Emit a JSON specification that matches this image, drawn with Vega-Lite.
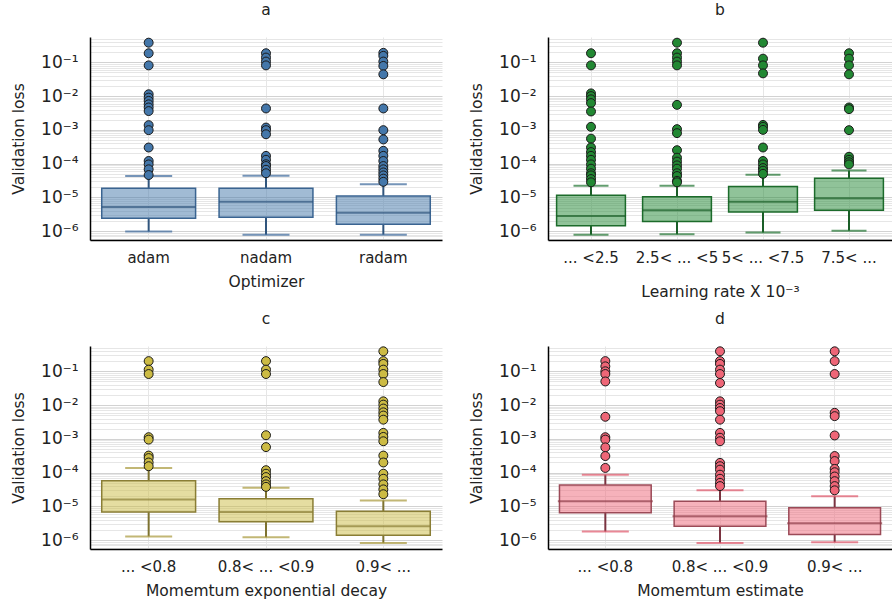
{
  "$schema": "https://vega.github.io/schema/vega-lite/v6.json",
  "padding": {"left": 11, "top": 3, "right": 0, "bottom": 0},
  "background": "white",
  "config": {
    "font": "DejaVu Sans",
    "view": {"stroke": null},
    "axis": {"labelFont": "DejaVu Sans", "titleFont": "DejaVu Sans", "labelColor": "#222222", "titleColor": "#222222", "titleFontWeight": "normal", "domainColor": "#000000", "domainWidth": 1.5, "ticks": false, "labelFontSize": 15, "titleFontSize": 15.5, "grid": true},
    "axisX": {"labelAngle": 0, "labelPadding": 10, "titlePadding": 9, "gridColor": "#e6e6e6"},
    "axisY": {"labelFontSize": 17, "labelPadding": 12, "titlePadding": 14},
    "title": {"fontSize": 15.5, "fontWeight": "normal", "font": "DejaVu Sans", "offset": 11, "color": "#222222", "frame": "group", "anchor": "middle"}
  },
  "datasets": {
    "boxes": [
      {"p": "a", "cat": "adam", "lo": 9.8e-7, "q1": 2.43e-6, "med": 5.2e-6, "q3": 1.86e-5, "hi": 4.3e-5},
      {"p": "a", "cat": "nadam", "lo": 7.9e-7, "q1": 2.6e-6, "med": 7.4e-6, "q3": 1.86e-5, "hi": 4.4e-5},
      {"p": "a", "cat": "radam", "lo": 7.9e-7, "q1": 1.6e-6, "med": 3.5e-6, "q3": 1.11e-5, "hi": 2.45e-5},
      {"p": "b", "cat": "... <2.5", "lo": 7.9e-7, "q1": 1.45e-6, "med": 2.8e-6, "q3": 1.17e-5, "hi": 2.2e-5},
      {"p": "b", "cat": "2.5< ... <5", "lo": 8.1e-7, "q1": 1.95e-6, "med": 4.2e-6, "q3": 1.04e-5, "hi": 2.2e-5},
      {"p": "b", "cat": "5< ... <7.5", "lo": 9.1e-7, "q1": 3.7e-6, "med": 7.4e-6, "q3": 2.1e-5, "hi": 4.7e-5},
      {"p": "b", "cat": "7.5< ...", "lo": 1.03e-6, "q1": 4.2e-6, "med": 9.5e-6, "q3": 3.7e-5, "hi": 6.3e-5},
      {"p": "c", "cat": "... <0.8", "lo": 1.3e-6, "q1": 6.8e-6, "med": 1.6e-5, "q3": 5.8e-5, "hi": 1.38e-4},
      {"p": "c", "cat": "0.8< ... <0.9", "lo": 1.23e-6, "q1": 3.5e-6, "med": 6.9e-6, "q3": 1.7e-5, "hi": 3.55e-5},
      {"p": "c", "cat": "0.9< ...", "lo": 8.3e-7, "q1": 1.4e-6, "med": 2.6e-6, "q3": 7.2e-6, "hi": 1.5e-5},
      {"p": "d", "cat": "... <0.8", "lo": 1.8e-6, "q1": 6.5e-6, "med": 1.42e-5, "q3": 4.3e-5, "hi": 8.7e-5},
      {"p": "d", "cat": "0.8< ... <0.9", "lo": 8.3e-7, "q1": 2.6e-6, "med": 5.1e-6, "q3": 1.42e-5, "hi": 3.0e-5},
      {"p": "d", "cat": "0.9< ...", "lo": 8.7e-7, "q1": 1.48e-6, "med": 3.2e-6, "q3": 9.1e-6, "hi": 2.0e-5}
    ],
    "out": [
      {"p": "a", "cat": "adam", "loss": 0.38}, {"p": "a", "cat": "adam", "loss": 0.185}, {"p": "a", "cat": "adam", "loss": 0.081}, {"p": "a", "cat": "adam", "loss": 0.0113}, {"p": "a", "cat": "adam", "loss": 0.009}, {"p": "a", "cat": "adam", "loss": 0.0072}, {"p": "a", "cat": "adam", "loss": 0.0057}, {"p": "a", "cat": "adam", "loss": 0.0046}, {"p": "a", "cat": "adam", "loss": 0.0036}, {"p": "a", "cat": "adam", "loss": 0.00138}, {"p": "a", "cat": "adam", "loss": 0.00098}, {"p": "a", "cat": "adam", "loss": 0.0003}, {"p": "a", "cat": "adam", "loss": 0.00012}, {"p": "a", "cat": "adam", "loss": 0.000095}, {"p": "a", "cat": "adam", "loss": 0.000068}, {"p": "a", "cat": "adam", "loss": 0.000046},
      {"p": "a", "cat": "nadam", "loss": 0.185}, {"p": "a", "cat": "nadam", "loss": 0.138}, {"p": "a", "cat": "nadam", "loss": 0.105}, {"p": "a", "cat": "nadam", "loss": 0.081}, {"p": "a", "cat": "nadam", "loss": 0.0043}, {"p": "a", "cat": "nadam", "loss": 0.00117}, {"p": "a", "cat": "nadam", "loss": 0.00098}, {"p": "a", "cat": "nadam", "loss": 0.00074}, {"p": "a", "cat": "nadam", "loss": 0.00017}, {"p": "a", "cat": "nadam", "loss": 0.00013}, {"p": "a", "cat": "nadam", "loss": 0.000096}, {"p": "a", "cat": "nadam", "loss": 0.000085}, {"p": "a", "cat": "nadam", "loss": 0.000066}, {"p": "a", "cat": "nadam", "loss": 0.000052},
      {"p": "a", "cat": "radam", "loss": 0.19}, {"p": "a", "cat": "radam", "loss": 0.155}, {"p": "a", "cat": "radam", "loss": 0.105}, {"p": "a", "cat": "radam", "loss": 0.078}, {"p": "a", "cat": "radam", "loss": 0.044}, {"p": "a", "cat": "radam", "loss": 0.0043}, {"p": "a", "cat": "radam", "loss": 0.00098}, {"p": "a", "cat": "radam", "loss": 0.00052}, {"p": "a", "cat": "radam", "loss": 0.00024}, {"p": "a", "cat": "radam", "loss": 0.00017}, {"p": "a", "cat": "radam", "loss": 0.00012}, {"p": "a", "cat": "radam", "loss": 0.000085}, {"p": "a", "cat": "radam", "loss": 0.000068}, {"p": "a", "cat": "radam", "loss": 0.000055}, {"p": "a", "cat": "radam", "loss": 0.000045}, {"p": "a", "cat": "radam", "loss": 0.000036}, {"p": "a", "cat": "radam", "loss": 0.000029},
      {"p": "b", "cat": "... <2.5", "loss": 0.185}, {"p": "b", "cat": "... <2.5", "loss": 0.081}, {"p": "b", "cat": "... <2.5", "loss": 0.012}, {"p": "b", "cat": "... <2.5", "loss": 0.01}, {"p": "b", "cat": "... <2.5", "loss": 0.008}, {"p": "b", "cat": "... <2.5", "loss": 0.0062}, {"p": "b", "cat": "... <2.5", "loss": 0.0035}, {"p": "b", "cat": "... <2.5", "loss": 0.00123}, {"p": "b", "cat": "... <2.5", "loss": 0.00055}, {"p": "b", "cat": "... <2.5", "loss": 0.0003}, {"p": "b", "cat": "... <2.5", "loss": 0.00022}, {"p": "b", "cat": "... <2.5", "loss": 0.00017}, {"p": "b", "cat": "... <2.5", "loss": 0.00013}, {"p": "b", "cat": "... <2.5", "loss": 0.000095}, {"p": "b", "cat": "... <2.5", "loss": 0.000071}, {"p": "b", "cat": "... <2.5", "loss": 0.000052}, {"p": "b", "cat": "... <2.5", "loss": 0.000045}, {"p": "b", "cat": "... <2.5", "loss": 0.000035}, {"p": "b", "cat": "... <2.5", "loss": 0.000028},
      {"p": "b", "cat": "2.5< ... <5", "loss": 0.38}, {"p": "b", "cat": "2.5< ... <5", "loss": 0.185}, {"p": "b", "cat": "2.5< ... <5", "loss": 0.138}, {"p": "b", "cat": "2.5< ... <5", "loss": 0.105}, {"p": "b", "cat": "2.5< ... <5", "loss": 0.081}, {"p": "b", "cat": "2.5< ... <5", "loss": 0.0055}, {"p": "b", "cat": "2.5< ... <5", "loss": 0.00105}, {"p": "b", "cat": "2.5< ... <5", "loss": 0.0008}, {"p": "b", "cat": "2.5< ... <5", "loss": 0.00025}, {"p": "b", "cat": "2.5< ... <5", "loss": 0.00015}, {"p": "b", "cat": "2.5< ... <5", "loss": 0.000115}, {"p": "b", "cat": "2.5< ... <5", "loss": 0.000089}, {"p": "b", "cat": "2.5< ... <5", "loss": 0.000071}, {"p": "b", "cat": "2.5< ... <5", "loss": 0.000052}, {"p": "b", "cat": "2.5< ... <5", "loss": 0.000043}, {"p": "b", "cat": "2.5< ... <5", "loss": 0.000031}, {"p": "b", "cat": "2.5< ... <5", "loss": 0.000028},
      {"p": "b", "cat": "5< ... <7.5", "loss": 0.38}, {"p": "b", "cat": "5< ... <7.5", "loss": 0.128}, {"p": "b", "cat": "5< ... <7.5", "loss": 0.081}, {"p": "b", "cat": "5< ... <7.5", "loss": 0.047}, {"p": "b", "cat": "5< ... <7.5", "loss": 0.0014}, {"p": "b", "cat": "5< ... <7.5", "loss": 0.00123}, {"p": "b", "cat": "5< ... <7.5", "loss": 0.001}, {"p": "b", "cat": "5< ... <7.5", "loss": 0.0003}, {"p": "b", "cat": "5< ... <7.5", "loss": 0.00012}, {"p": "b", "cat": "5< ... <7.5", "loss": 0.000095}, {"p": "b", "cat": "5< ... <7.5", "loss": 0.000074}, {"p": "b", "cat": "5< ... <7.5", "loss": 0.000062}, {"p": "b", "cat": "5< ... <7.5", "loss": 0.00005},
      {"p": "b", "cat": "7.5< ...", "loss": 0.185}, {"p": "b", "cat": "7.5< ...", "loss": 0.128}, {"p": "b", "cat": "7.5< ...", "loss": 0.081}, {"p": "b", "cat": "7.5< ...", "loss": 0.044}, {"p": "b", "cat": "7.5< ...", "loss": 0.0046}, {"p": "b", "cat": "7.5< ...", "loss": 0.0041}, {"p": "b", "cat": "7.5< ...", "loss": 0.00098}, {"p": "b", "cat": "7.5< ...", "loss": 0.00016}, {"p": "b", "cat": "7.5< ...", "loss": 0.00013}, {"p": "b", "cat": "7.5< ...", "loss": 0.00011}, {"p": "b", "cat": "7.5< ...", "loss": 0.000095},
      {"p": "c", "cat": "... <0.8", "loss": 0.2}, {"p": "c", "cat": "... <0.8", "loss": 0.112}, {"p": "c", "cat": "... <0.8", "loss": 0.083}, {"p": "c", "cat": "... <0.8", "loss": 0.00112}, {"p": "c", "cat": "... <0.8", "loss": 0.00095}, {"p": "c", "cat": "... <0.8", "loss": 0.00032}, {"p": "c", "cat": "... <0.8", "loss": 0.00027}, {"p": "c", "cat": "... <0.8", "loss": 0.0002}, {"p": "c", "cat": "... <0.8", "loss": 0.000155},
      {"p": "c", "cat": "0.8< ... <0.9", "loss": 0.2}, {"p": "c", "cat": "0.8< ... <0.9", "loss": 0.112}, {"p": "c", "cat": "0.8< ... <0.9", "loss": 0.083}, {"p": "c", "cat": "0.8< ... <0.9", "loss": 0.00128}, {"p": "c", "cat": "0.8< ... <0.9", "loss": 0.00057}, {"p": "c", "cat": "0.8< ... <0.9", "loss": 0.000118}, {"p": "c", "cat": "0.8< ... <0.9", "loss": 0.000093}, {"p": "c", "cat": "0.8< ... <0.9", "loss": 0.000074}, {"p": "c", "cat": "0.8< ... <0.9", "loss": 0.000056}, {"p": "c", "cat": "0.8< ... <0.9", "loss": 0.000045}, {"p": "c", "cat": "0.8< ... <0.9", "loss": 0.000038},
      {"p": "c", "cat": "0.9< ...", "loss": 0.39}, {"p": "c", "cat": "0.9< ...", "loss": 0.2}, {"p": "c", "cat": "0.9< ...", "loss": 0.165}, {"p": "c", "cat": "0.9< ...", "loss": 0.112}, {"p": "c", "cat": "0.9< ...", "loss": 0.083}, {"p": "c", "cat": "0.9< ...", "loss": 0.048}, {"p": "c", "cat": "0.9< ...", "loss": 0.0129}, {"p": "c", "cat": "0.9< ...", "loss": 0.0103}, {"p": "c", "cat": "0.9< ...", "loss": 0.0079}, {"p": "c", "cat": "0.9< ...", "loss": 0.0061}, {"p": "c", "cat": "0.9< ...", "loss": 0.0049}, {"p": "c", "cat": "0.9< ...", "loss": 0.0037}, {"p": "c", "cat": "0.9< ...", "loss": 0.0015}, {"p": "c", "cat": "0.9< ...", "loss": 0.00114}, {"p": "c", "cat": "0.9< ...", "loss": 0.00085}, {"p": "c", "cat": "0.9< ...", "loss": 0.00032}, {"p": "c", "cat": "0.9< ...", "loss": 0.0002}, {"p": "c", "cat": "0.9< ...", "loss": 0.000093}, {"p": "c", "cat": "0.9< ...", "loss": 0.000066}, {"p": "c", "cat": "0.9< ...", "loss": 0.000045}, {"p": "c", "cat": "0.9< ...", "loss": 0.000032}, {"p": "c", "cat": "0.9< ...", "loss": 0.000023},
      {"p": "d", "cat": "... <0.8", "loss": 0.2}, {"p": "d", "cat": "... <0.8", "loss": 0.14}, {"p": "d", "cat": "... <0.8", "loss": 0.1}, {"p": "d", "cat": "... <0.8", "loss": 0.083}, {"p": "d", "cat": "... <0.8", "loss": 0.05}, {"p": "d", "cat": "... <0.8", "loss": 0.0045}, {"p": "d", "cat": "... <0.8", "loss": 0.00112}, {"p": "d", "cat": "... <0.8", "loss": 0.00095}, {"p": "d", "cat": "... <0.8", "loss": 0.00056}, {"p": "d", "cat": "... <0.8", "loss": 0.00031}, {"p": "d", "cat": "... <0.8", "loss": 0.000138},
      {"p": "d", "cat": "0.8< ... <0.9", "loss": 0.39}, {"p": "d", "cat": "0.8< ... <0.9", "loss": 0.2}, {"p": "d", "cat": "0.8< ... <0.9", "loss": 0.165}, {"p": "d", "cat": "0.8< ... <0.9", "loss": 0.112}, {"p": "d", "cat": "0.8< ... <0.9", "loss": 0.083}, {"p": "d", "cat": "0.8< ... <0.9", "loss": 0.045}, {"p": "d", "cat": "0.8< ... <0.9", "loss": 0.0129}, {"p": "d", "cat": "0.8< ... <0.9", "loss": 0.0103}, {"p": "d", "cat": "0.8< ... <0.9", "loss": 0.0082}, {"p": "d", "cat": "0.8< ... <0.9", "loss": 0.0066}, {"p": "d", "cat": "0.8< ... <0.9", "loss": 0.0037}, {"p": "d", "cat": "0.8< ... <0.9", "loss": 0.0015}, {"p": "d", "cat": "0.8< ... <0.9", "loss": 0.00108}, {"p": "d", "cat": "0.8< ... <0.9", "loss": 0.00085}, {"p": "d", "cat": "0.8< ... <0.9", "loss": 0.000195}, {"p": "d", "cat": "0.8< ... <0.9", "loss": 0.000155}, {"p": "d", "cat": "0.8< ... <0.9", "loss": 0.000123}, {"p": "d", "cat": "0.8< ... <0.9", "loss": 0.000087}, {"p": "d", "cat": "0.8< ... <0.9", "loss": 0.000066}, {"p": "d", "cat": "0.8< ... <0.9", "loss": 0.00005}, {"p": "d", "cat": "0.8< ... <0.9", "loss": 0.00004},
      {"p": "d", "cat": "0.9< ...", "loss": 0.39}, {"p": "d", "cat": "0.9< ...", "loss": 0.2}, {"p": "d", "cat": "0.9< ...", "loss": 0.083}, {"p": "d", "cat": "0.9< ...", "loss": 0.0059}, {"p": "d", "cat": "0.9< ...", "loss": 0.0047}, {"p": "d", "cat": "0.9< ...", "loss": 0.00126}, {"p": "d", "cat": "0.9< ...", "loss": 0.00031}, {"p": "d", "cat": "0.9< ...", "loss": 0.00022}, {"p": "d", "cat": "0.9< ...", "loss": 0.000129}, {"p": "d", "cat": "0.9< ...", "loss": 0.000103}, {"p": "d", "cat": "0.9< ...", "loss": 0.000077}, {"p": "d", "cat": "0.9< ...", "loss": 0.000056}, {"p": "d", "cat": "0.9< ...", "loss": 0.00004}, {"p": "d", "cat": "0.9< ...", "loss": 0.00003}
    ]
  },
  "spacing": 12,
  "vconcat": [
    {
      "spacing": 27,
      "hconcat": [
        {
          "title": {"text": "a"},
          "width": 352, "height": 203,
          "encoding": {"x": {"field": "cat", "type": "nominal", "sort": ["adam", "nadam", "radam"], "scale": {"paddingInner": 0, "paddingOuter": 0}, "axis": {"title": "Optimizer"}}},
          "layer": [
            {"data": {"name": "boxes"}, "transform": [{"filter": "datum.p == 'a'"}], "mark": {"type": "rule", "color": "#30557d", "strokeWidth": 2},
             "encoding": {"y": {"field": "lo", "type": "quantitative", "scale": {"type": "log", "domain": [5.5e-7, 0.56], "nice": false},
               "axis": {"title": "Validation loss", "labelOverlap": false, "labelFlush": false,
                 "values": [6e-7, 7e-7, 8e-7, 9e-7, 1e-6, 2e-6, 3e-6, 4e-6, 5e-6, 6e-6, 7e-6, 8e-6, 9e-6, 1e-5, 2e-5, 3e-5, 4e-5, 5e-5, 6e-5, 7e-5, 8e-5, 9e-5, 1e-4, 2e-4, 3e-4, 4e-4, 5e-4, 6e-4, 7e-4, 8e-4, 9e-4, 1e-3, 2e-3, 3e-3, 4e-3, 5e-3, 6e-3, 7e-3, 8e-3, 9e-3, 1e-2, 2e-2, 3e-2, 4e-2, 5e-2, 6e-2, 7e-2, 8e-2, 9e-2, 0.1, 0.2, 0.3, 0.4, 0.5],
                 "labelExpr": "datum.value == 0.1 ? '10⁻¹' : datum.value == 0.01 ? '10⁻²' : datum.value == 0.001 ? '10⁻³' : datum.value == 0.0001 ? '10⁻⁴' : datum.value == 0.00001 ? '10⁻⁵' : datum.value == 0.000001 ? '10⁻⁶' : ''",
                 "gridColor": {"condition": {"test": "datum.value == 0.1 || datum.value == 0.01 || datum.value == 0.001 || datum.value == 0.0001 || datum.value == 0.00001 || datum.value == 0.000001", "value": "#d2d2d2"}, "value": "#e6e6e6"}}},
               "y2": {"field": "q1"}}},
            {"data": {"name": "boxes"}, "transform": [{"filter": "datum.p == 'a'"}], "mark": {"type": "rule", "color": "#30557d", "strokeWidth": 2},
             "encoding": {"y": {"field": "q3", "type": "quantitative", "axis": {"title": "Validation loss"}}, "y2": {"field": "hi"}}},
            {"data": {"name": "boxes"}, "transform": [{"filter": "datum.p == 'a'"}], "mark": {"type": "bar", "fill": "#4477AA", "fillOpacity": 0.5, "stroke": "#3a6491", "strokeWidth": 1.5, "width": {"band": 0.8}},
             "encoding": {"y": {"field": "q1", "type": "quantitative", "axis": {"title": "Validation loss"}}, "y2": {"field": "q3"}}},
            {"data": {"name": "boxes"}, "transform": [{"filter": "datum.p == 'a'"}], "mark": {"type": "tick", "color": "#30557d", "thickness": 2, "size": 94},
             "encoding": {"y": {"field": "med", "type": "quantitative", "axis": {"title": "Validation loss"}}}},
            {"data": {"name": "boxes"}, "transform": [{"filter": "datum.p == 'a'"}], "mark": {"type": "tick", "color": "#3a679a", "thickness": 2, "size": 47},
             "encoding": {"y": {"field": "lo", "type": "quantitative", "axis": {"title": "Validation loss"}}}},
            {"data": {"name": "boxes"}, "transform": [{"filter": "datum.p == 'a'"}], "mark": {"type": "tick", "color": "#3a679a", "thickness": 2, "size": 47},
             "encoding": {"y": {"field": "hi", "type": "quantitative", "axis": {"title": "Validation loss"}}}},
            {"data": {"name": "out"}, "transform": [{"filter": "datum.p == 'a'"}], "mark": {"type": "point", "shape": "circle", "filled": true, "fill": "#4477AA", "fillOpacity": 1, "opacity": 1, "stroke": "#1a1a1a", "strokeWidth": 1, "size": 80},
             "encoding": {"y": {"field": "loss", "type": "quantitative", "axis": {"title": "Validation loss"}}}}
          ]
        },
        {
          "title": {"text": "b"},
          "width": 344, "height": 203,
          "encoding": {"x": {"field": "cat", "type": "nominal", "sort": ["... <2.5", "2.5< ... <5", "5< ... <7.5", "7.5< ..."], "scale": {"paddingInner": 0, "paddingOuter": -0.034, "align": 0}, "axis": {"title": "Learning rate X 10⁻³", "titlePadding": 19}}},
          "layer": [
            {"data": {"name": "boxes"}, "transform": [{"filter": "datum.p == 'b'"}], "mark": {"type": "rule", "color": "#1a5e27", "strokeWidth": 2},
             "encoding": {"y": {"field": "lo", "type": "quantitative", "scale": {"type": "log", "domain": [5.5e-7, 0.56], "nice": false},
               "axis": {"title": "Validation loss", "labelOverlap": false, "labelFlush": false,
                 "values": [6e-7, 7e-7, 8e-7, 9e-7, 1e-6, 2e-6, 3e-6, 4e-6, 5e-6, 6e-6, 7e-6, 8e-6, 9e-6, 1e-5, 2e-5, 3e-5, 4e-5, 5e-5, 6e-5, 7e-5, 8e-5, 9e-5, 1e-4, 2e-4, 3e-4, 4e-4, 5e-4, 6e-4, 7e-4, 8e-4, 9e-4, 1e-3, 2e-3, 3e-3, 4e-3, 5e-3, 6e-3, 7e-3, 8e-3, 9e-3, 1e-2, 2e-2, 3e-2, 4e-2, 5e-2, 6e-2, 7e-2, 8e-2, 9e-2, 0.1, 0.2, 0.3, 0.4, 0.5],
                 "labelExpr": "datum.value == 0.1 ? '10⁻¹' : datum.value == 0.01 ? '10⁻²' : datum.value == 0.001 ? '10⁻³' : datum.value == 0.0001 ? '10⁻⁴' : datum.value == 0.00001 ? '10⁻⁵' : datum.value == 0.000001 ? '10⁻⁶' : ''",
                 "gridColor": {"condition": {"test": "datum.value == 0.1 || datum.value == 0.01 || datum.value == 0.001 || datum.value == 0.0001 || datum.value == 0.00001 || datum.value == 0.000001", "value": "#d2d2d2"}, "value": "#e6e6e6"}}},
               "y2": {"field": "q1"}}},
            {"data": {"name": "boxes"}, "transform": [{"filter": "datum.p == 'b'"}], "mark": {"type": "rule", "color": "#1a5e27", "strokeWidth": 2},
             "encoding": {"y": {"field": "q3", "type": "quantitative", "axis": {"title": "Validation loss"}}, "y2": {"field": "hi"}}},
            {"data": {"name": "boxes"}, "transform": [{"filter": "datum.p == 'b'"}], "mark": {"type": "bar", "fill": "#228833", "fillOpacity": 0.5, "stroke": "#1c6b2b", "strokeWidth": 1.5, "width": {"band": 0.8}},
             "encoding": {"y": {"field": "q1", "type": "quantitative", "axis": {"title": "Validation loss"}}, "y2": {"field": "q3"}}},
            {"data": {"name": "boxes"}, "transform": [{"filter": "datum.p == 'b'"}], "mark": {"type": "tick", "color": "#1a5e27", "thickness": 2, "size": 70},
             "encoding": {"y": {"field": "med", "type": "quantitative", "axis": {"title": "Validation loss"}}}},
            {"data": {"name": "boxes"}, "transform": [{"filter": "datum.p == 'b'"}], "mark": {"type": "tick", "color": "#1f7430", "thickness": 2, "size": 35},
             "encoding": {"y": {"field": "lo", "type": "quantitative", "axis": {"title": "Validation loss"}}}},
            {"data": {"name": "boxes"}, "transform": [{"filter": "datum.p == 'b'"}], "mark": {"type": "tick", "color": "#1f7430", "thickness": 2, "size": 35},
             "encoding": {"y": {"field": "hi", "type": "quantitative", "axis": {"title": "Validation loss"}}}},
            {"data": {"name": "out"}, "transform": [{"filter": "datum.p == 'b'"}], "mark": {"type": "point", "shape": "circle", "filled": true, "fill": "#228833", "fillOpacity": 1, "opacity": 1, "stroke": "#1a1a1a", "strokeWidth": 1, "size": 80},
             "encoding": {"y": {"field": "loss", "type": "quantitative", "axis": {"title": "Validation loss"}}}}
          ]
        }
      ]
    },
    {
      "spacing": 27,
      "hconcat": [
        {
          "title": {"text": "c"},
          "width": 352, "height": 203,
          "encoding": {"x": {"field": "cat", "type": "nominal", "sort": ["... <0.8", "0.8< ... <0.9", "0.9< ..."], "scale": {"paddingInner": 0, "paddingOuter": 0}, "axis": {"title": "Momemtum exponential decay"}}},
          "layer": [
            {"data": {"name": "boxes"}, "transform": [{"filter": "datum.p == 'c'"}], "mark": {"type": "rule", "color": "#7d7230", "strokeWidth": 2},
             "encoding": {"y": {"field": "lo", "type": "quantitative", "scale": {"type": "log", "domain": [5.5e-7, 0.56], "nice": false},
               "axis": {"title": "Validation loss", "labelOverlap": false, "labelFlush": false,
                 "values": [6e-7, 7e-7, 8e-7, 9e-7, 1e-6, 2e-6, 3e-6, 4e-6, 5e-6, 6e-6, 7e-6, 8e-6, 9e-6, 1e-5, 2e-5, 3e-5, 4e-5, 5e-5, 6e-5, 7e-5, 8e-5, 9e-5, 1e-4, 2e-4, 3e-4, 4e-4, 5e-4, 6e-4, 7e-4, 8e-4, 9e-4, 1e-3, 2e-3, 3e-3, 4e-3, 5e-3, 6e-3, 7e-3, 8e-3, 9e-3, 1e-2, 2e-2, 3e-2, 4e-2, 5e-2, 6e-2, 7e-2, 8e-2, 9e-2, 0.1, 0.2, 0.3, 0.4, 0.5],
                 "labelExpr": "datum.value == 0.1 ? '10⁻¹' : datum.value == 0.01 ? '10⁻²' : datum.value == 0.001 ? '10⁻³' : datum.value == 0.0001 ? '10⁻⁴' : datum.value == 0.00001 ? '10⁻⁵' : datum.value == 0.000001 ? '10⁻⁶' : ''",
                 "gridColor": {"condition": {"test": "datum.value == 0.1 || datum.value == 0.01 || datum.value == 0.001 || datum.value == 0.0001 || datum.value == 0.00001 || datum.value == 0.000001", "value": "#d2d2d2"}, "value": "#e6e6e6"}}},
               "y2": {"field": "q1"}}},
            {"data": {"name": "boxes"}, "transform": [{"filter": "datum.p == 'c'"}], "mark": {"type": "rule", "color": "#7d7230", "strokeWidth": 2},
             "encoding": {"y": {"field": "q3", "type": "quantitative", "axis": {"title": "Validation loss"}}, "y2": {"field": "hi"}}},
            {"data": {"name": "boxes"}, "transform": [{"filter": "datum.p == 'c'"}], "mark": {"type": "bar", "fill": "#CCBB44", "fillOpacity": 0.5, "stroke": "#8a7e35", "strokeWidth": 1.5, "width": {"band": 0.8}},
             "encoding": {"y": {"field": "q1", "type": "quantitative", "axis": {"title": "Validation loss"}}, "y2": {"field": "q3"}}},
            {"data": {"name": "boxes"}, "transform": [{"filter": "datum.p == 'c'"}], "mark": {"type": "tick", "color": "#8a7e35", "thickness": 2, "size": 94},
             "encoding": {"y": {"field": "med", "type": "quantitative", "axis": {"title": "Validation loss"}}}},
            {"data": {"name": "boxes"}, "transform": [{"filter": "datum.p == 'c'"}], "mark": {"type": "tick", "color": "#a8993a", "thickness": 2, "size": 47},
             "encoding": {"y": {"field": "lo", "type": "quantitative", "axis": {"title": "Validation loss"}}}},
            {"data": {"name": "boxes"}, "transform": [{"filter": "datum.p == 'c'"}], "mark": {"type": "tick", "color": "#a8993a", "thickness": 2, "size": 47},
             "encoding": {"y": {"field": "hi", "type": "quantitative", "axis": {"title": "Validation loss"}}}},
            {"data": {"name": "out"}, "transform": [{"filter": "datum.p == 'c'"}], "mark": {"type": "point", "shape": "circle", "filled": true, "fill": "#CCBB44", "fillOpacity": 1, "opacity": 1, "stroke": "#1a1a1a", "strokeWidth": 1, "size": 80},
             "encoding": {"y": {"field": "loss", "type": "quantitative", "axis": {"title": "Validation loss"}}}}
          ]
        },
        {
          "title": {"text": "d"},
          "width": 344, "height": 203,
          "encoding": {"x": {"field": "cat", "type": "nominal", "sort": ["... <0.8", "0.8< ... <0.9", "0.9< ..."], "scale": {"paddingInner": 0, "paddingOuter": -0.048, "align": 0}, "axis": {"title": "Momemtum estimate"}}},
          "layer": [
            {"data": {"name": "boxes"}, "transform": [{"filter": "datum.p == 'd'"}], "mark": {"type": "rule", "color": "#7a3340", "strokeWidth": 2},
             "encoding": {"y": {"field": "lo", "type": "quantitative", "scale": {"type": "log", "domain": [5.5e-7, 0.56], "nice": false},
               "axis": {"title": "Validation loss", "labelOverlap": false, "labelFlush": false,
                 "values": [6e-7, 7e-7, 8e-7, 9e-7, 1e-6, 2e-6, 3e-6, 4e-6, 5e-6, 6e-6, 7e-6, 8e-6, 9e-6, 1e-5, 2e-5, 3e-5, 4e-5, 5e-5, 6e-5, 7e-5, 8e-5, 9e-5, 1e-4, 2e-4, 3e-4, 4e-4, 5e-4, 6e-4, 7e-4, 8e-4, 9e-4, 1e-3, 2e-3, 3e-3, 4e-3, 5e-3, 6e-3, 7e-3, 8e-3, 9e-3, 1e-2, 2e-2, 3e-2, 4e-2, 5e-2, 6e-2, 7e-2, 8e-2, 9e-2, 0.1, 0.2, 0.3, 0.4, 0.5],
                 "labelExpr": "datum.value == 0.1 ? '10⁻¹' : datum.value == 0.01 ? '10⁻²' : datum.value == 0.001 ? '10⁻³' : datum.value == 0.0001 ? '10⁻⁴' : datum.value == 0.00001 ? '10⁻⁵' : datum.value == 0.000001 ? '10⁻⁶' : ''",
                 "gridColor": {"condition": {"test": "datum.value == 0.1 || datum.value == 0.01 || datum.value == 0.001 || datum.value == 0.0001 || datum.value == 0.00001 || datum.value == 0.000001", "value": "#d2d2d2"}, "value": "#e6e6e6"}}},
               "y2": {"field": "q1"}}},
            {"data": {"name": "boxes"}, "transform": [{"filter": "datum.p == 'd'"}], "mark": {"type": "rule", "color": "#7a3340", "strokeWidth": 2},
             "encoding": {"y": {"field": "q3", "type": "quantitative", "axis": {"title": "Validation loss"}}, "y2": {"field": "hi"}}},
            {"data": {"name": "boxes"}, "transform": [{"filter": "datum.p == 'd'"}], "mark": {"type": "bar", "fill": "#EE6677", "fillOpacity": 0.5, "stroke": "#9b4a57", "strokeWidth": 1.5, "width": {"band": 0.8}},
             "encoding": {"y": {"field": "q1", "type": "quantitative", "axis": {"title": "Validation loss"}}, "y2": {"field": "q3"}}},
            {"data": {"name": "boxes"}, "transform": [{"filter": "datum.p == 'd'"}], "mark": {"type": "tick", "color": "#8f3d49", "thickness": 2, "size": 95},
             "encoding": {"y": {"field": "med", "type": "quantitative", "axis": {"title": "Validation loss"}}}},
            {"data": {"name": "boxes"}, "transform": [{"filter": "datum.p == 'd'"}], "mark": {"type": "tick", "color": "#e0566a", "thickness": 2, "size": 47},
             "encoding": {"y": {"field": "lo", "type": "quantitative", "axis": {"title": "Validation loss"}}}},
            {"data": {"name": "boxes"}, "transform": [{"filter": "datum.p == 'd'"}], "mark": {"type": "tick", "color": "#e0566a", "thickness": 2, "size": 47},
             "encoding": {"y": {"field": "hi", "type": "quantitative", "axis": {"title": "Validation loss"}}}},
            {"data": {"name": "out"}, "transform": [{"filter": "datum.p == 'd'"}], "mark": {"type": "point", "shape": "circle", "filled": true, "fill": "#EE6677", "fillOpacity": 1, "opacity": 1, "stroke": "#1a1a1a", "strokeWidth": 1, "size": 80},
             "encoding": {"y": {"field": "loss", "type": "quantitative", "axis": {"title": "Validation loss"}}}}
          ]
        }
      ]
    }
  ]
}
